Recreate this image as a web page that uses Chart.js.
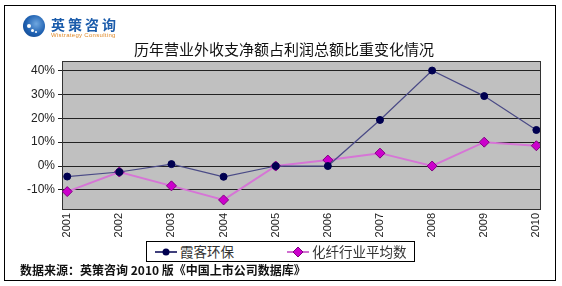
<!DOCTYPE html>
<html>
<head>
<meta charset="utf-8">
<script src="https://cdn.jsdelivr.net/npm/chart.js@4/dist/chart.umd.min.js"></script>
<style>
  html, body { margin: 0; padding: 0; background: #ffffff; }
  #wrap { position: relative; width: 562px; height: 286px; overflow: hidden; }
  #frame { position: absolute; left: 4px; top: 5px; width: 552px; height: 276px; border: 1px solid #000; box-sizing: border-box; }
  #c { position: absolute; left: 0; top: 0; }
  .logo-icon { position: absolute; left: 23px; top: 15px; width: 22px; height: 22px; border-radius: 50%;
    background: radial-gradient(circle at 60% 40%, #6fa7e0 0%, #1d5fb0 55%, #123f80 100%); }
  .logo-icon i { position: absolute; width: 4px; height: 4px; border-radius: 50%; background: #fff; }
  .logo-cn { position: absolute; left: 51px; top: 17px; line-height: 14px; font: bold 14px/14px "Noto Sans CJK SC", sans-serif; color: #1b5cab; letter-spacing: 3px; }
  .logo-en { position: absolute; left: 51px; top: 32px; font: 6px/6px "Liberation Sans", sans-serif; color: #e08a2a; letter-spacing: 0.3px; }
  .title { position: absolute; left: 0; width: 562px; top: 38px; text-align: center; font: 15px "Noto Sans CJK SC", serif; color: #111; padding-left: 6px; box-sizing: border-box; }
  .legend { position: absolute; left: 146px; top: 241px; width: 269px; height: 21px; border: 1px solid #000; box-sizing: border-box; background: #fff;
    font: 13.5px/19px "Noto Sans CJK SC", serif; color: #333; white-space: nowrap; }
  .legend span.t { position: absolute; top: 0; }
  .footer { position: absolute; left: 20px; top: 261px; font: bold 12px "Noto Sans CJK SC", serif; color: #111; white-space: nowrap; }
</style>
</head>
<body>
<div id="wrap">
  <div id="frame"></div>
  <canvas id="c" width="562" height="286"></canvas>
  <div class="logo-icon"><i style="left:4px;top:9px"></i><i style="left:8px;top:14px;width:3px;height:3px"></i><i style="left:12px;top:16px;width:2px;height:2px"></i></div>
  <div class="logo-cn">英策咨询</div>
  <div class="logo-en">Wistrategy Consulting</div>
  <div class="title">历年营业外收支净额占利润总额比重变化情况</div>
  <div class="legend">
    <svg width="267" height="19" style="position:absolute;left:0;top:0">
      <line x1="8" y1="10" x2="30" y2="10" stroke="#000050" stroke-width="1.5"/>
      <circle cx="19" cy="10" r="3.5" fill="#000050"/>
      <line x1="140" y1="10" x2="162" y2="10" stroke="#d070d0" stroke-width="2"/>
      <polygon points="151,5 156,10 151,15 146,10" fill="#cc00cc" stroke="#800080" stroke-width="1"/>
    </svg>
    <span class="t" style="left:33px">霞客环保</span>
    <span class="t" style="left:165px">化纤行业平均数</span>
  </div>
  <div class="footer">数据来源：英策咨询 2010 版《中国上市公司数据库》</div>
</div>
<script>
// data (percent)
const years = [2001, 2002, 2003, 2004, 2005, 2006, 2007, 2008, 2009, 2010];
const xiakeValues = [-4.4, -2.5, 0.8, -4.5, 0, 0, 19.3, 40, 29.3, 15.1];
const industryAvgValues = [-10.7, -2.5, -8.3, -14.2, 0, 2.5, 5.4, 0, 10, 8.5];
const yTickValues = [-10, 0, 10, 20, 30, 40];
const seriesNames = ['霞客环保', '化纤行业平均数'];

// grey plot area with a dark frame
const plotBg = {
  id: 'plotBg',
  beforeDraw(chart) {
    const a = chart.chartArea, ctx = chart.ctx;
    ctx.save();
    ctx.fillStyle = '#c0c0c0';
    ctx.fillRect(a.left, a.top, a.right - a.left, a.bottom - a.top);
    ctx.restore();
  },
  beforeDatasetsDraw(chart) {
    const a = chart.chartArea, ctx = chart.ctx;
    ctx.save();
    ctx.strokeStyle = '#333';
    ctx.lineWidth = 1;
    ctx.strokeRect(Math.round(a.left) + 0.5, Math.round(a.top) + 0.5, Math.round(a.right - a.left), Math.round(a.bottom - a.top));
    ctx.restore();
  }
};

new Chart(document.getElementById('c'), {
  type: 'line',
  data: {
    datasets: [
      {
        label: seriesNames[0],
        data: years.map((y, i) => ({ x: y, y: xiakeValues[i] })),
        borderColor: '#4a4a86',
        borderWidth: 1.2,
        pointStyle: 'circle',
        pointRadius: 3.5,
        pointBackgroundColor: '#000050',
        pointBorderColor: '#000050',
        pointBorderWidth: 1,
        tension: 0
      },
      {
        label: seriesNames[1],
        data: years.map((y, i) => ({ x: y, y: industryAvgValues[i] })),
        borderColor: '#d675d6',
        borderWidth: 2,
        pointStyle: 'rectRot',
        pointRadius: 5,
        pointBackgroundColor: '#cc00cc',
        pointBorderColor: '#800080',
        pointBorderWidth: 1,
        tension: 0
      }
    ]
  },
  options: {
    responsive: false,
    animation: false,
    layout: { padding: { left: 0, right: 22, top: 61, bottom: 0 } },
    plugins: { legend: { display: false }, tooltip: { enabled: false } },
    scales: {
      x: {
        type: 'linear',
        min: 2000.9,
        max: 2010.07,
        afterBuildTicks: s => { s.ticks = years.map(v => ({ value: v })); },
        afterFit: s => { s.height = 77; },
        grid: { display: false, drawTicks: false },
        border: { display: false },
        ticks: {
          minRotation: 90, maxRotation: 90, padding: 4,
          color: '#222', font: { family: 'Liberation Sans', size: 11 },
          callback: v => String(v)
        }
      },
      y: {
        min: -18,
        max: 44,
        afterBuildTicks: s => { s.ticks = yTickValues.map(v => ({ value: v })); },
        afterFit: s => { s.width = 62; },
        grid: { color: '#222', lineWidth: 1, tickLength: 4, tickColor: '#222' },
        border: { display: false },
        ticks: {
          padding: 3,
          color: '#222', font: { family: 'Liberation Sans', size: 12 },
          callback: v => v + '%'
        }
      }
    }
  },
  plugins: [plotBg]
});
</script>
</body>
</html>
